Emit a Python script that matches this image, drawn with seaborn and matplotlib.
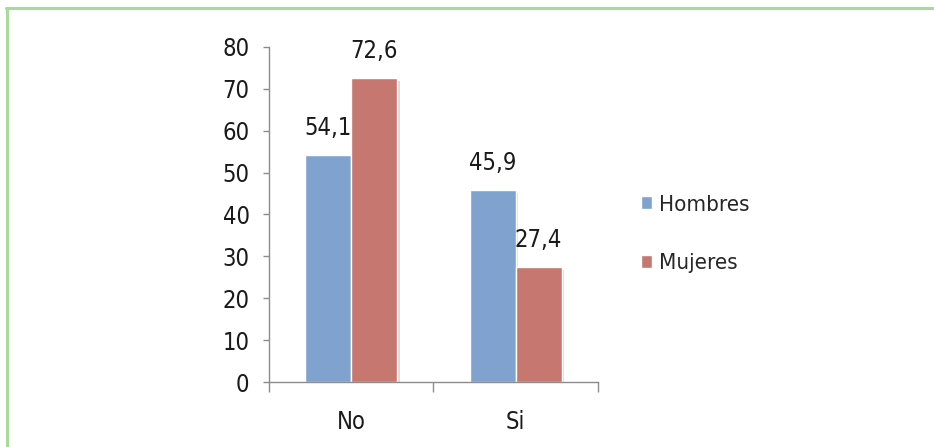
import matplotlib
matplotlib.use('Agg')
import matplotlib.pyplot as plt
import matplotlib.patheffects as pe
from matplotlib.lines import Line2D
import seaborn as sns
import pandas as pd

# datos del gráfico
respuestas = ['No', 'Si']
hombres = [54.1, 45.9]
mujeres = [72.6, 27.4]
grupos = ['Hombres', 'Mujeres']
colores = ['#7FA2CF', '#C6776F']

df = pd.DataFrame({
    'Respuesta': respuestas * 2,
    'Valor': hombres + mujeres,
    'Sexo': [grupos[0]] * len(respuestas) + [grupos[1]] * len(respuestas),
})

sns.set_style('white')
plt.rcParams['font.family'] = ['DejaVu Sans']
plt.rcParams['font.stretch'] = 'condensed'
fs = 17

fig = plt.figure(figsize=(9.34, 4.47), dpi=100)
ax = fig.add_axes([0.288, 0.1454, 0.352, 0.7495])

sns.barplot(data=df, x='Respuesta', y='Valor', hue='Sexo', palette=colores,
            saturation=1, width=0.56, edgecolor='white', linewidth=1, ax=ax, legend=True)

sombra = [pe.SimplePatchShadow(offset=(2, -2), shadow_rgbFace='#999999', alpha=0.35), pe.Normal()]
for c in ax.containers:
    for p in c:
        p.set_path_effects(sombra)
    ax.bar_label(c, fmt=lambda v: f'{v:.1f}'.replace('.', ','), padding=11,
                 fontsize=fs, color='#1a1a1a')

ax.set_ylim(0, 80)
ax.set_xlim(-0.5, 1.5)
ax.set_yticks(range(0, 81, 10))
ax.set_xlabel('')
ax.set_ylabel('')
sns.despine(ax=ax)
for s in ['left', 'bottom']:
    ax.spines[s].set_color('#8c8c8c')
    ax.spines[s].set_linewidth(1)

ax.tick_params(axis='y', which='major', length=4, width=1, color='#8c8c8c',
               direction='out', left=True, pad=10, labelsize=fs, labelcolor='#1a1a1a')
ax.tick_params(axis='x', which='major', length=0, pad=20, labelsize=fs, labelcolor='#1a1a1a')
ax.set_xticks([-0.5, 0.5, 1.5], minor=True)
ax.tick_params(axis='x', which='minor', length=7, width=1, color='#8c8c8c',
               direction='out', bottom=True)

handles, labels = ax.get_legend_handles_labels()
for h in handles:
    h.set_path_effects([])
ax.legend(handles, labels, loc='center left', bbox_to_anchor=(0.686, 0.4765),
          bbox_transform=fig.transFigure, frameon=False, fontsize=16,
          handlelength=0.5, handleheight=0.5, handletextpad=0.3,
          labelspacing=1.75, borderpad=0, borderaxespad=0)

# marco verde
fig.add_artist(Line2D([0.006, 1.0], [1 - 7.5 / 447] * 2, color='#A9D99B', lw=2.2,
                      transform=fig.transFigure))
fig.add_artist(Line2D([6.5 / 934] * 2, [0.0, 1 - 7.5 / 447], color='#A9D99B', lw=2.2,
                      transform=fig.transFigure))

fig.savefig('out.png', dpi=100)
